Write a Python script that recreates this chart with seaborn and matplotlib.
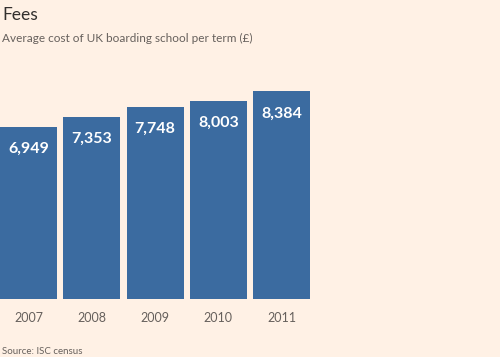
import numpy as np
import pandas as pd
import seaborn as sns
import matplotlib as mpl
from matplotlib import pyplot as plt

years = ["2007", "2008", "2009", "2010", "2011"]
fees = [6949, 7353, 7748, 8003, 8384]

bg = "#fff1e5"
bar_color = "#3b6ba0"
text_grey = "#66605c"

sns.set_theme(style="white")
plt.rcParams["font.family"] = ["Lato", "DejaVu Sans"]

df = pd.DataFrame({"year": years, "fee": fees})

fig = plt.figure(figsize=(5, 3.57), dpi=100, facecolor=bg)
# axes spans full width, bars start flush at the left edge like the original
ax = fig.add_axes([0, 1 - 299 / 357, 1, (299 - 60) / 357])
ax.set_facecolor(bg)

sns.barplot(data=df, x="year", y="fee", color=bar_color, width=0.9,
            saturation=1, linewidth=0, ax=ax)

ax.set_xlim(-0.45, 7.45)
ax.set_ylim(0, 239 / 0.0248)

for i, v in enumerate(fees):
    ax.annotate(f"{v:,}", (i, v), xytext=(0, -16), textcoords="offset points",
                ha="center", va="center", color="white", fontsize=11.5,
                fontweight="bold")

for s in ax.spines.values():
    s.set_visible(False)
ax.set_yticks([])
ax.set_xlabel("")
ax.set_ylabel("")
ax.tick_params(axis="x", length=0, pad=9, labelsize=9, labelcolor=text_grey)

fig.text(0.004, 1 - 15 / 357, "Fees", fontsize=12.5, color="#33302e",
         va="center", ha="left")
fig.text(0.004, 1 - 38 / 357, "Average cost of UK boarding school per term (£)",
         fontsize=8.5, color=text_grey, va="center", ha="left")
fig.text(0.004, 1 - 351 / 357, "Source: ISC census", fontsize=7,
         color=text_grey, va="center", ha="left")

fig.savefig("out.png", dpi=100, facecolor=bg)
